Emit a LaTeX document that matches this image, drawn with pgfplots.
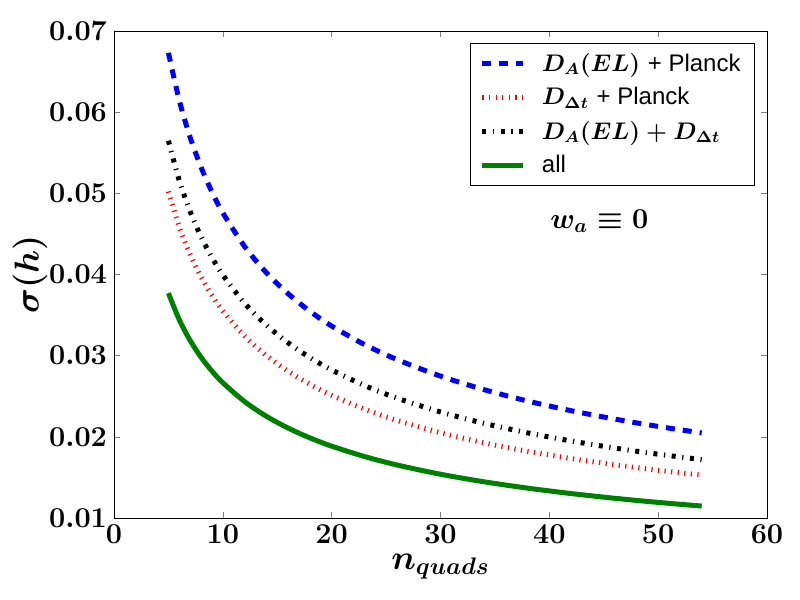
\documentclass[border=0pt]{standalone}
\usepackage{fontspec}
\newfontfamily\hv{Liberation Sans}
\usepackage{pgfplots}
\pgfplotsset{compat=1.18}
\begin{document}
\begin{tikzpicture}
\begin{axis}[
  scale only axis, width=326.5pt, height=243.5pt,
  xmin=0, xmax=60, ymin=0.01, ymax=0.07,
  xtick={0,10,20,30,40,50,60},
  ytick={0.01,0.02,0.03,0.04,0.05,0.06,0.07},
  tick align=inside, major tick length=3pt,
  ticklabel style={font=\Large\boldmath},
  yticklabel style={/pgf/number format/.cd, fixed, fixed zerofill, precision=2},
  scaled y ticks=false,
  xlabel={$n_{quads}$}, ylabel={$\sigma(h)$},
  label style={font=\LARGE\boldmath},
  ylabel style={at={(rel axis cs:0,0.5)}, anchor=center, yshift=42pt},
  xlabel style={at={(rel axis cs:0.5,0)}, anchor=center, yshift=-24.5pt},
  legend style={at={(1,1)}, anchor=north east, xshift=-6pt, yshift=-6pt,
    font=\large\boldmath, draw=black, row sep=2.6pt, inner xsep=5pt, inner ysep=3pt},
  legend cell align=left,
  legend image code/.code={\draw[#1] (0cm,0cm) -- (0.72cm,0cm);},
]
\addplot[blue, line width=2.5pt, dash pattern=on 4.5pt off 4pt, smooth] coordinates {
(5,0.06731)(6,0.06144)(7,0.05688)(8,0.05321)(9,0.05017)(10,0.04759)(12,0.04345)(14,0.04022)(16,0.03763)(18,0.03547)(20,0.03365)(23,0.03138)(26,0.02952)(30,0.02748)(34,0.02581)(38,0.02441)(42,0.02322)(46,0.02219)(50,0.02128)(54,0.02048)};
\addlegendentry{\hspace{6pt}$D_A(EL)$ {\hv + Planck}}
\addplot[red, line width=2.5pt, dash pattern=on 0.6pt off 2.7pt, smooth] coordinates {
(5,0.05022)(6,0.04585)(7,0.04245)(8,0.03970)(9,0.03743)(10,0.03551)(12,0.03242)(14,0.03001)(16,0.02808)(18,0.02647)(20,0.02511)(23,0.02342)(26,0.02202)(30,0.02050)(34,0.01926)(38,0.01822)(42,0.01733)(46,0.01656)(50,0.01588)(54,0.01528)};
\addlegendentry{\hspace{6pt}$D_{\Delta t}$ {\hv + Planck}}
\addplot[black, line width=2.5pt, dash pattern=on 2pt off 3.3pt on 0.6pt off 3.3pt, smooth] coordinates {
(5,0.05648)(6,0.05156)(7,0.04774)(8,0.04465)(9,0.04210)(10,0.03994)(12,0.03646)(14,0.03376)(16,0.03158)(18,0.02977)(20,0.02824)(23,0.02633)(26,0.02477)(30,0.02306)(34,0.02166)(38,0.02049)(42,0.01949)(46,0.01862)(50,0.01786)(54,0.01719)};
\addlegendentry{\hspace{6pt}$D_A(EL) + D_{\Delta t}$}
\addplot[color={rgb,255:red,0;green,128;blue,0}, line width=2.5pt, smooth] coordinates {
(5,0.03770)(6,0.03442)(7,0.03186)(8,0.02980)(9,0.02810)(10,0.02666)(12,0.02434)(14,0.02253)(16,0.02108)(18,0.01987)(20,0.01885)(23,0.01758)(26,0.01653)(30,0.01539)(34,0.01446)(38,0.01368)(42,0.01301)(46,0.01243)(50,0.01192)(54,0.01147)};
\addlegendentry{\hspace{6pt}{\hv all}}
\node[font=\Large\boldmath] at (axis cs:44.6,0.0466) {$w_a \equiv 0$};
\coordinate (bl) at (rel axis cs:0,0);
\coordinate (tr) at (rel axis cs:1,1);
\end{axis}
\path ([shift={(-57pt,-41pt)}]bl) rectangle ([shift={(16.5pt,15.5pt)}]tr);
\end{tikzpicture}
\end{document}
